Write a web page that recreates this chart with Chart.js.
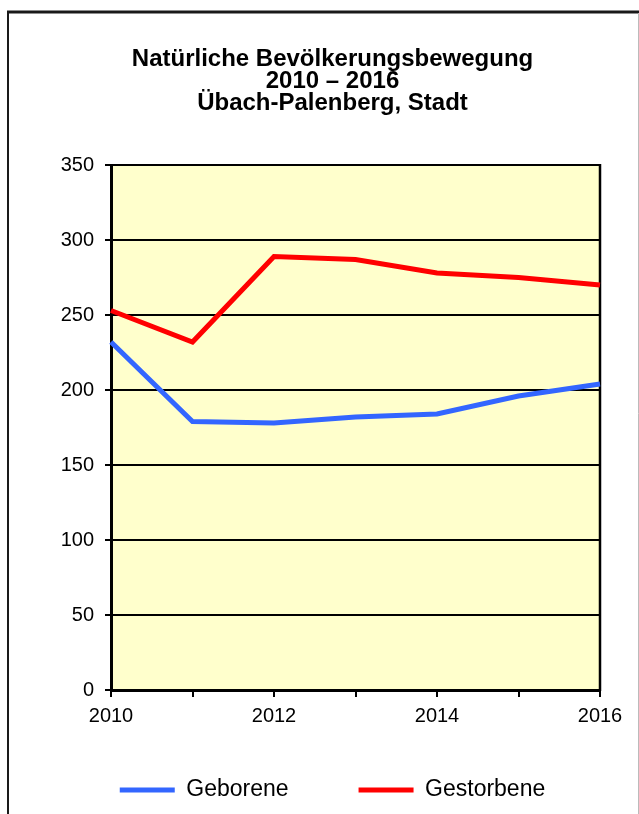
<!DOCTYPE html>
<html lang="de">
<head>
<meta charset="utf-8">
<title>Natürliche Bevölkerungsbewegung 2010 – 2016</title>
<script src="https://cdn.jsdelivr.net/npm/chart.js@4"></script>
<style>
  html, body { margin: 0; padding: 0; background: #fff; }
  canvas { display: block; }
</style>
</head>
<body>
<canvas id="bevoelkerung-chart" width="639" height="814"></canvas>
<script>
// Datos
const years = ['2010', '2011', '2012', '2013', '2014', '2015', '2016'];
const geborene = [232, 179, 178, 182, 184, 196, 204];
const gestorbene = [253, 232, 289, 287, 278, 275, 270];
const yTicks = [0, 50, 100, 150, 200, 250, 300, 350];

const FONT = "'Liberation Sans', Arial, sans-serif";

// Fondo amarillo del área del gráfico, borde derecho y marco exterior
const framePlugin = {
  id: 'frame',
  beforeDraw(chart) {
    const { ctx, chartArea: a } = chart;
    ctx.save();
    ctx.fillStyle = '#FFFFCC';
    ctx.fillRect(a.left, a.top, a.right - a.left, a.bottom - a.top);
    ctx.restore();
  },
  beforeDatasetsDraw(chart) {
    const { ctx, chartArea: a } = chart;
    ctx.save();
    ctx.strokeStyle = '#000';
    ctx.lineWidth = 2.5;
    ctx.beginPath();
    ctx.moveTo(a.right, a.top - 1);
    ctx.lineTo(a.right, a.bottom + 1);
    ctx.stroke();
    ctx.restore();
  },
  afterDraw(chart) {
    const { ctx } = chart;
    ctx.save();
    ctx.strokeStyle = '#1a1a1a';
    ctx.lineWidth = 3;
    ctx.beginPath();
    ctx.moveTo(7, 12);
    ctx.lineTo(639, 12);
    ctx.stroke();
    ctx.lineWidth = 2;
    ctx.beginPath();
    ctx.moveTo(8, 11);
    ctx.lineTo(8, 814);
    ctx.stroke();
    ctx.strokeStyle = '#bbbbbb';
    ctx.lineWidth = 1;
    ctx.beginPath();
    ctx.moveTo(638.5, 13);
    ctx.lineTo(638.5, 814);
    ctx.stroke();
    ctx.restore();
  }
};

new Chart(document.getElementById('bevoelkerung-chart'), {
  type: 'line',
  data: {
    labels: years,
    datasets: [
      {
        label: 'Geborene',
        data: geborene,
        borderColor: '#3366FF',
        backgroundColor: '#3366FF',
        borderWidth: 5,
        pointRadius: 0,
        tension: 0
      },
      {
        label: 'Gestorbene',
        data: gestorbene,
        borderColor: '#FF0000',
        backgroundColor: '#FF0000',
        borderWidth: 5,
        pointRadius: 0,
        tension: 0
      }
    ]
  },
  options: {
    responsive: false,
    animation: false,
    layout: { padding: { left: 26, right: 0, top: 0, bottom: 2.5 } },
    plugins: {
      title: {
        display: true,
        text: ['Natürliche Bevölkerungsbewegung', '2010 – 2016', 'Übach-Palenberg, Stadt'],
        color: '#000',
        font: { family: FONT, size: 24, weight: 'bold', lineHeight: '22px' },
        padding: { top: 48, bottom: 51 }
      },
      legend: {
        position: 'bottom',
        labels: {
          usePointStyle: true,
          pointStyle: 'line',
          pointStyleWidth: 55,
          padding: 70,
          color: '#000',
          font: { family: FONT, size: 23 }
        }
      },
      tooltip: { enabled: false }
    },
    scales: {
      x: {
        offset: false,
        afterFit(scale) { scale.height = 18.5; },
        grid: { drawOnChartArea: false, drawTicks: true, tickLength: 7, color: '#000', lineWidth: 2 },
        border: { display: true, color: '#000', width: 3 },
        ticks: {
          autoSkip: false,
          maxRotation: 0,
          mirror: true,
          padding: -38,
          color: '#000',
          font: { family: FONT, size: 20 },
          callback(value, index) {
            return index % 2 === 0 ? years[index] : '';
          }
        }
      },
      y: {
        min: yTicks[0],
        max: yTicks[yTicks.length - 1],
        afterFit(scale) { scale.width = 85; },
        afterBuildTicks(scale) { scale.ticks = yTicks.map(v => ({ value: v })); },
        grid: { color: '#000', lineWidth: 2, tickLength: 6 },
        border: { display: true, color: '#000', width: 3 },
        ticks: {
          padding: 11,
          color: '#000',
          font: { family: FONT, size: 20 }
        }
      },
      // eje vacío a la derecha, solo para dejar el margen
      y2: {
        type: 'linear',
        position: 'right',
        afterFit(scale) { scale.width = 39; },
        grid: { display: false },
        border: { display: false },
        ticks: { display: false }
      }
    }
  },
  plugins: [framePlugin]
});
</script>
</body>
</html>
